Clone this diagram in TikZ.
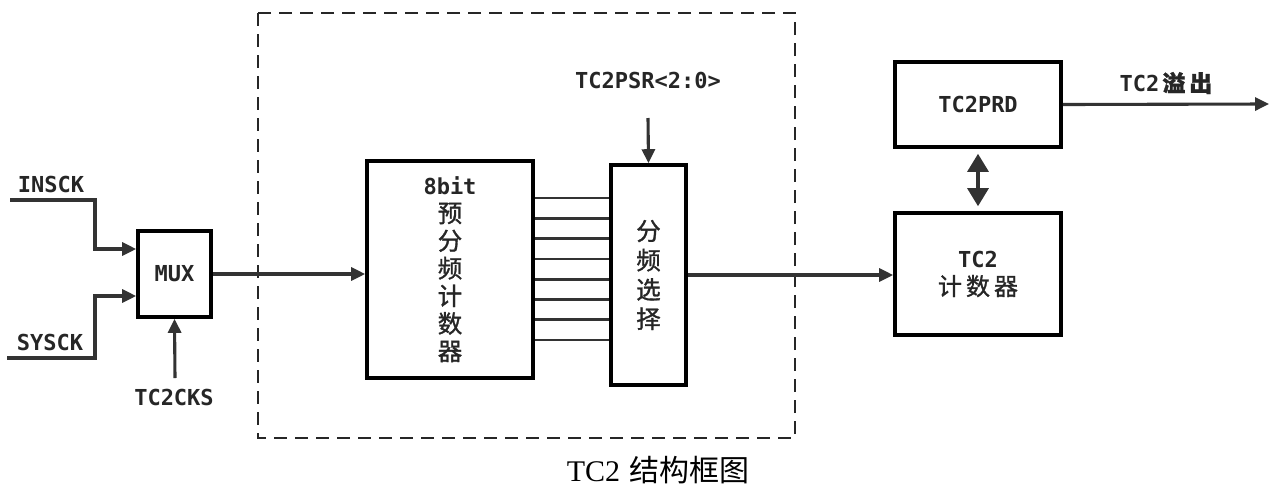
\documentclass[tikz,border=0pt]{standalone}
\usepackage{fontspec}
\usetikzlibrary{arrows.meta}
\newfontfamily\lab{DejaVu Sans Mono}
\newfontfamily\cjk{Noto Sans CJK SC}
\newfontfamily\cjkb[FakeBold=1.2]{Noto Sans CJK SC}
\newfontfamily\capserif{Liberation Serif}
\definecolor{lc}{HTML}{333333}
\tikzset{
  blk/.style={draw=black, line width=3.6pt, inner sep=0pt, fill=white},
  conn/.style={draw=lc, line width=3.1pt},
  arr/.style={conn, -{Triangle[length=14pt,width=13pt]}},
  darr/.style={conn, {Triangle[length=18pt,width=21pt]}-{Triangle[length=18pt,width=21pt]}},
  lbl/.style={inner sep=0pt, font=\lab\bfseries\fontsize{22}{26}\selectfont, text=black!85},
}
\begin{document}
\begin{tikzpicture}[x=1pt,y=-1pt]
\useasboundingbox (0,0) rectangle (1271,488);
% dashed enclosure
\draw[dash pattern=on 13pt off 8pt, line width=2.4pt, draw=black!85] (258,13) rectangle (795,438);
% blocks
\node[blk, minimum width=73pt, minimum height=86pt, lbl] (mux) at (174.5,274) {MUX};
\node[blk, minimum width=166pt, minimum height=217pt, align=center, font=\fontsize{24.5}{27.6}\selectfont, text=black!85] (pre) at (450,269.5)
  {{\lab\bfseries\fontsize{22}{27.6}\selectfont 8bit}\\{\cjkb 预}\\{\cjkb 分}\\{\cjkb 频}\\{\cjkb 计}\\{\cjkb 数}\\{\cjkb 器}};
\node[blk, minimum width=75pt, minimum height=220pt, align=center, font=\cjkb\fontsize{24.5}{29.3}\selectfont, text=black!85] (sel) at (648.5,275)
  {分\\频\\选\\择};
\node[blk, minimum width=166pt, minimum height=85pt, lbl] (prd) at (978,104.5) {TC2PRD};
\node[blk, minimum width=166pt, minimum height=122pt, align=center, font=\fontsize{24}{28}\selectfont, text=black!85] (cnt) at (978,274)
  {{\lab\bfseries\fontsize{22}{28}\selectfont TC2}\\{\cjkb 计\kern4pt 数\kern4pt 器}};
% labels
\node[lbl] (insck) at (51,184) {INSCK};
\node[lbl] (sysck) at (50,342) {SYSCK};
\node[lbl] (cks) at (174,397) {TC2CKS};
\node[lbl] (psr) at (648,80) {TC2PSR<2:0>};
\node[lbl] (ovf) at (1166,83) {TC2{\cjkb\fontsize{23}{26}\selectfont\kern3pt 溢\kern4pt 出}};
\node[inner sep=0pt, font=\fontsize{30}{34}\selectfont] (cap) at (658,470) {{\capserif TC2} {\cjk 结构框图}};
% free ends
\coordinate (i0) at (10,200);
\coordinate (s0) at (7,358);
\coordinate (c0) at (175,378);
\coordinate (p0) at (648,118);
\coordinate (o1) at (1269,104);
% connectors
\draw[arr] (i0) -- (95,200) |- ([yshift=25pt]mux.west);
\draw[arr] (s0) -- (95,358) |- ([yshift=-22pt]mux.west);
\draw[arr] (c0) -- (mux.south);
\draw[arr] (mux.east) -- (mux.east -| pre.west);
\foreach \yy in {198,218.3,238.6,258.9,279.1,299.4,319.7,340}
  \draw[conn, line width=2.8pt] (pre.east |- 0,\yy) -- (sel.west |- 0,\yy);
\draw[arr] (p0) -- (sel.north);
\draw[arr] (sel.east) -- (sel.east -| cnt.west);
\draw[darr, shorten <=5pt, shorten >=5pt] (prd.south) -- (cnt.north);
\draw[arr] (prd.east) -- (o1);
\end{tikzpicture}
\end{document}
